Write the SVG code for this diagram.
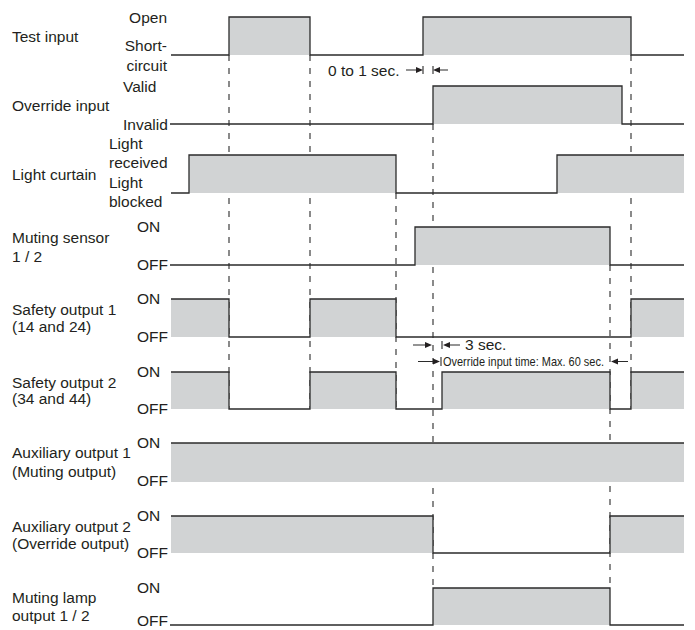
<svg xmlns="http://www.w3.org/2000/svg" width="695" height="630" viewBox="0 0 695 630">
<style>
text{font-family:"Liberation Sans",Arial,Helvetica,sans-serif;font-size:15.5px;fill:#231f20}
.e{text-anchor:end}
.f{fill:#d1d3d4;stroke:none}
.s{fill:none;stroke:#2b2b2b;stroke-width:1.3}
.d{fill:none;stroke:#2b2b2b;stroke-width:1.1;stroke-dasharray:6 7}
.t{fill:none;stroke:#2b2b2b;stroke-width:1.1}
.a{fill:#231f20;stroke:none}
</style>
<rect width="695" height="630" fill="#fff"/>
<g id="connectors">
<path class="d" d="M229,55V409M310,55V409M396,193V409M433,124V588M610,265V588M631,55V409"/>
<path class="t" d="M406,70H417M423,66V74M433,66V74M439,70H448"/>
<path class="a" d="M423,70l-7,-3v6z M433,70l7,-3v6z"/>
<text x="328" y="76">0 to 1 sec.</text>
<path class="t" d="M413,345H426M442,341V349M449,345H460"/>
<path class="a" d="M432,345l-7,-3v6z M443,345l7,-3v6z"/>
<text x="465" y="350">3 sec.</text>
<path class="t" d="M418,361.5H433M441,357V366M617,361.5H628"/>
<path class="a" d="M440,361.5l-7,-3v6z M611,361.5l7,-3v6z"/>
<text x="443" y="366" style="font-size:13px" textLength="161" lengthAdjust="spacingAndGlyphs">Override input time: Max. 60 sec.</text>
</g>
<g id="test-input">
<rect class="f" x="229" y="17" width="81" height="38"/>
<rect class="f" x="423" y="17" width="208" height="38"/>
<path class="s" d="M171,55H229V17H310V55H423V17H631V55H684"/>
<text x="12" y="42">Test input</text>
<text class="e" x="167" y="23">Open</text>
<text class="e" x="167" y="51">Short-</text>
<text class="e" x="167" y="71">circuit</text>
</g>
<g id="override-input">
<rect class="f" x="433" y="86" width="189" height="38"/>
<path class="s" d="M170,124H433V86H622V124H684"/>
<text x="12" y="111">Override input</text>
<text x="123" y="92">Valid</text>
<text x="123" y="130">Invalid</text>
</g>
<g id="light-curtain">
<rect class="f" x="189" y="155" width="207" height="38"/>
<rect class="f" x="557" y="155" width="127" height="38"/>
<path class="s" d="M171,193H189V155H396V193H557V155H684"/>
<text x="12" y="180">Light curtain</text>
<text x="109" y="149">Light</text>
<text x="109" y="168">received</text>
<text x="109" y="188">Light</text>
<text x="109" y="207">blocked</text>
</g>
<g id="muting-sensor">
<rect class="f" x="415" y="227" width="195" height="38"/>
<path class="s" d="M170,265H415V227H610V265H684"/>
<text x="12" y="243">Muting sensor</text>
<text x="12" y="262">1 / 2</text>
<text x="137" y="232">ON</text>
<text x="137" y="270">OFF</text>
</g>
<g id="safety-output-1">
<rect class="f" x="171" y="299" width="58" height="38"/>
<rect class="f" x="310" y="299" width="86" height="38"/>
<rect class="f" x="631" y="299" width="53" height="38"/>
<path class="s" d="M171,299H229V337H310V299H396V337H631V299H684"/>
<text x="12" y="315">Safety output 1</text>
<text x="12" y="332">(14 and 24)</text>
<text x="137" y="304">ON</text>
<text x="137" y="342">OFF</text>
</g>
<g id="safety-output-2">
<rect class="f" x="171" y="372" width="58" height="37"/>
<rect class="f" x="310" y="372" width="86" height="37"/>
<rect class="f" x="442" y="372" width="168" height="37"/>
<rect class="f" x="631" y="372" width="53" height="37"/>
<path class="s" d="M171,372H229V409H310V372H396V409H442V372H610V409H631V372H684"/>
<text x="12" y="388">Safety output 2</text>
<text x="12" y="404">(34 and 44)</text>
<text x="137" y="377">ON</text>
<text x="137" y="414">OFF</text>
</g>
<g id="auxiliary-output-1">
<rect class="f" x="171" y="443" width="513" height="39"/>
<path class="s" d="M171,443H684"/>
<text x="12" y="458">Auxiliary output 1</text>
<text x="12" y="477">(Muting output)</text>
<text x="137" y="448">ON</text>
<text x="137" y="486">OFF</text>
</g>
<g id="auxiliary-output-2">
<rect class="f" x="171" y="516" width="262" height="37"/>
<rect class="f" x="610" y="516" width="74" height="37"/>
<path class="s" d="M171,516H433V553H610V516H684"/>
<text x="12" y="532">Auxiliary output 2</text>
<text x="12" y="549">(Override output)</text>
<text x="137" y="521">ON</text>
<text x="137" y="558">OFF</text>
</g>
<g id="muting-lamp-output">
<rect class="f" x="433" y="588" width="177" height="37"/>
<path class="s" d="M170,625H433V588H610V625H684"/>
<text x="12" y="603">Muting lamp</text>
<text x="12" y="621">output 1 / 2</text>
<text x="137" y="626">OFF</text>
<text x="137" y="593">ON</text>
</g>
</svg>
